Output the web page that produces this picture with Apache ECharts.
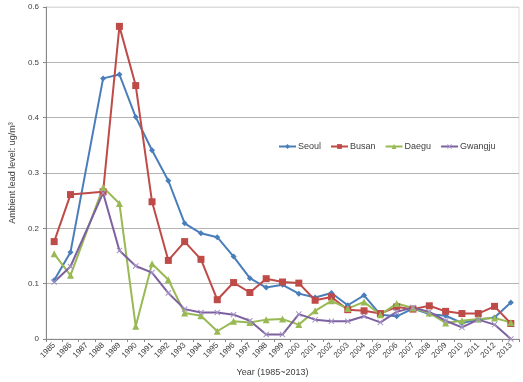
<!DOCTYPE html>
<html>
<head>
<meta charset="utf-8">
<script src="https://cdn.jsdelivr.net/npm/echarts@6/dist/echarts.min.js"></script>
<style>
html,body{margin:0;padding:0;background:#fff;}
#chart{width:523px;height:382px;}
</style>
</head>
<body>
<div id="chart"></div>
<script>
const years = ['1985','1986','1987','1988','1989','1990','1991','1992','1993','1994','1995','1996','1997','1998','1999','2000','2001','2002','2003','2004','2005','2006','2007','2008','2009','2010','2011','2012','2013'];
const yTicks = [0, 0.1, 0.2, 0.3, 0.4, 0.5, 0.6];
const seoul   = [0.106,0.157,null,0.471,0.478,0.401,0.341,0.286,0.209,0.191,0.184,0.149,0.110,0.093,0.098,0.082,0.075,0.083,0.061,0.079,0.044,0.041,0.055,0.045,0.042,0.029,0.035,0.039,0.066];
const busan   = [0.176,0.261,null,0.266,0.565,0.458,0.248,0.142,0.176,0.144,0.071,0.102,0.084,0.109,0.103,0.101,0.070,0.076,0.053,0.051,0.046,0.058,0.054,0.060,0.050,0.046,0.046,0.059,0.028];
const daegu   = [0.154,0.115,null,0.274,0.245,0.023,0.136,0.107,0.047,0.042,0.014,0.032,0.030,0.035,0.036,0.026,0.051,0.069,0.055,0.067,0.044,0.064,0.056,0.047,0.029,0.033,0.036,0.038,0.030];
const gwangju = [0.103,0.131,null,0.264,0.160,0.132,0.120,0.083,0.054,0.048,0.048,0.044,0.033,0.008,0.008,0.045,0.035,0.032,0.032,0.041,0.030,0.049,0.057,0.049,0.033,0.021,0.035,0.026,0.000];

const FONT = 'Liberation Sans';
const xSymbol = 'path://M0,1.2 L1.2,0 L5,3.8 L8.8,0 L10,1.2 L6.2,5 L10,8.8 L8.8,10 L5,6.2 L1.2,10 L0,8.8 L3.8,5 Z';

function mk(name, data, color, symbol, size, markerColor) {
  return {
    name: name, type: 'line', data: data, connectNulls: true,
    symbol: symbol, symbolSize: size, showSymbol: true,
    lineStyle: {width: 2, color: color},
    itemStyle: {color: markerColor || color, borderWidth: 0},
    emphasis: {disabled: true},
    animation: false
  };
}

const chart = echarts.init(document.getElementById('chart'), null, {renderer: 'canvas'});
chart.setOption({
  backgroundColor: '#fff',
  animation: false,
  textStyle: {fontFamily: FONT},
  grid: {left: 38, right: 4, top: 7, bottom: 38, show: true, borderColor: '#dcdcdc', borderWidth: 1, containLabel: false},
  legend: {
    left: 273, top: 137, itemWidth: 17, itemHeight: 6, itemGap: 9,
    textStyle: {fontFamily: FONT, fontSize: 9, color: '#404040', padding: [0,0,0,-3]},
    data: ['Seoul','Busan','Daegu','Gwangju']
  },
  xAxis: {
    type: 'category', data: years, boundaryGap: true,
    name: 'Year (1985~2013)', nameLocation: 'middle', nameGap: 29,
    nameTextStyle: {fontFamily: FONT, fontSize: 9, color: '#404040', padding: [0,20,0,0]},
    axisLine: {lineStyle: {color: '#888', width: 1}},
    axisTick: {show: true, alignWithLabel: false, length: 3, lineStyle: {color: '#888'}},
    axisLabel: {rotate: 45, fontSize: 8, color: '#404040', fontFamily: FONT, interval: 0, margin: 5},
    splitLine: {show: false}
  },
  yAxis: {
    type: 'value', min: 0, max: 0.6, interval: 0.1,
    name: 'Ambient lead level: ug/m³', nameLocation: 'middle', nameGap: 28,
    nameTextStyle: {fontFamily: FONT, fontSize: 9, color: '#404040'},
    axisLine: {show: true, lineStyle: {color: '#888', width: 1}},
    axisTick: {show: true, length: 3, lineStyle: {color: '#888'}},
    axisLabel: {fontSize: 8, color: '#404040', fontFamily: FONT, margin: 7,
      formatter: v => { const t = yTicks.find(x => Math.abs(x - v) < 1e-9); return t === 0 ? '0' : String(t); }},
    splitLine: {show: true, lineStyle: {color: ['#b5b5b5','#b5b5b5','#b5b5b5','#b5b5b5','#b5b5b5','#b5b5b5','#dcdcdc'], width: 1}}
  },
  series: [
    mk('Seoul', seoul, '#4a7ebb', 'diamond', 6),
    mk('Busan', busan, '#be4b48', 'rect', 7),
    mk('Daegu', daegu, '#98b954', 'triangle', 7),
    mk('Gwangju', gwangju, '#7d60a0', xSymbol, 6, '#a494c6')
  ]
});
</script>
</body>
</html>
